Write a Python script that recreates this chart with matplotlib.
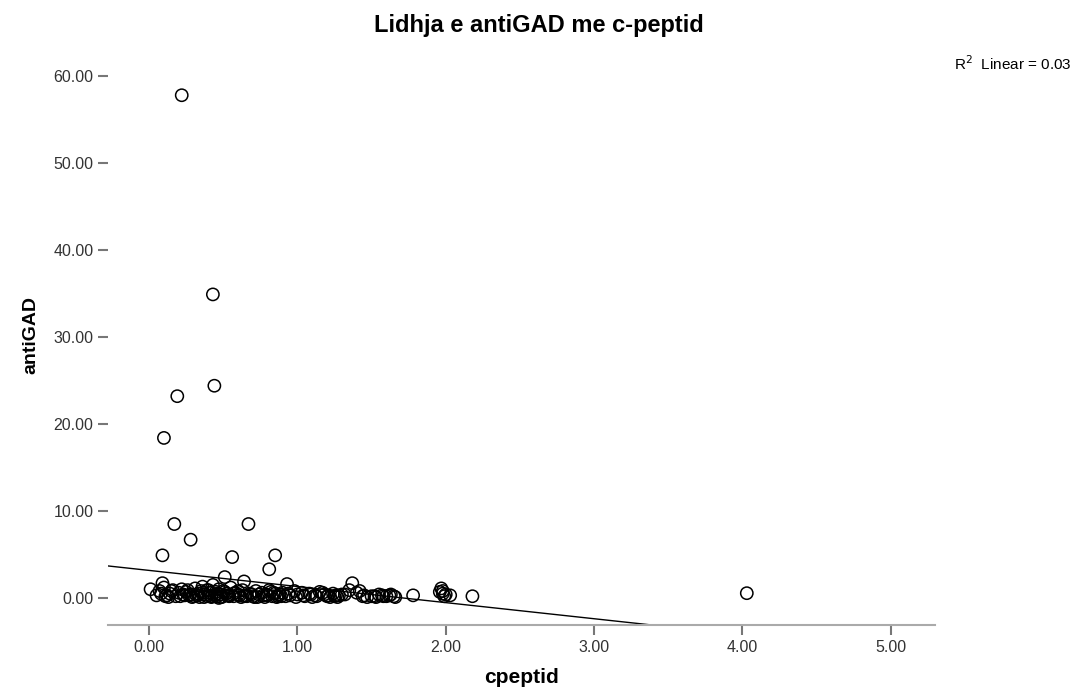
import numpy as np
import matplotlib
matplotlib.use('Agg')
import matplotlib.pyplot as plt

plt.rcParams['font.family'] = ['Liberation Sans', 'DejaVu Sans']

# 外れ値 + 密集部
cpeptid = [0.22, 0.43, 0.44, 0.19, 0.10, 0.17, 0.67, 0.28, 0.09, 0.56, 0.85, 0.81, 0.51,
           0.64, 0.93, 1.37, 0.01, 0.09, 4.03, 1.97, 1.98, 2.03, 2.18, 1.78, 1.42, 1.47,
           0.08, 0.10, 0.12, 0.15, 0.18, 0.20, 0.22, 0.24, 0.26, 0.28, 0.30, 0.31, 0.33,
           0.34, 0.35, 0.36, 0.38, 0.39, 0.40, 0.41, 0.42, 0.43, 0.44, 0.45, 0.46, 0.47,
           0.48, 0.49, 0.50, 0.52, 0.53, 0.55, 0.57, 0.58, 0.60, 0.62, 0.63, 0.65, 0.68,
           0.70, 0.72, 0.74, 0.76, 0.78, 0.80, 0.82, 0.83, 0.85, 0.86, 0.88, 0.90, 0.92,
           0.95, 0.98, 1.00, 1.03, 1.05, 1.08, 1.10, 1.12, 1.15, 1.18, 1.20, 1.22, 1.24,
           1.26, 1.30, 1.35, 1.40, 1.57, 1.60, 1.63, 1.66, 0.11, 0.27, 0.37, 0.46, 0.54,
           0.61, 0.71, 0.79, 0.87, 0.32, 0.41, 0.47, 0.66,
           1.96, 1.98, 1.99, 2.00, 1.58, 1.62, 1.65, 1.52, 1.25, 1.28,
           0.05, 0.07, 0.13, 0.14, 0.16, 0.21, 0.23, 0.25, 0.29, 0.33, 0.36, 0.39, 0.42,
           0.45, 0.48, 0.51, 0.54, 0.57, 0.60, 0.64, 0.69, 0.73, 0.77, 0.81, 0.84, 0.89,
           0.94, 0.99, 1.04, 1.09, 1.13, 1.17, 1.21, 1.27, 1.32, 1.45, 1.50, 1.55, 1.44, 1.53]
antigad = [57.8, 34.9, 24.4, 23.2, 18.4, 8.5, 8.5, 6.7, 4.9, 4.7, 4.9, 3.3, 2.4,
           1.9, 1.6, 1.7, 1.0, 1.7, 0.55, 1.1, 0.8, 0.3, 0.2, 0.3, 0.8, 0.1,
           0.5, 1.2, 0.3, 0.8, 0.2, 0.6, 1.0, 0.3, 0.9, 0.4, 0.2, 1.1, 0.5,
           0.1, 0.8, 1.3, 0.4, 0.2, 0.9, 0.6, 0.1, 1.5, 0.3, 0.7, 0.2, 1.0,
           0.4, 0.1, 0.8, 0.5, 0.3, 1.2, 0.2, 0.6, 0.4, 0.1, 0.9, 0.3, 0.5,
           0.2, 0.8, 0.4, 0.6, 0.1, 0.3, 0.7, 0.2, 0.5, 0.1, 0.4, 0.6, 0.2,
           0.3, 0.8, 0.4, 0.6, 0.2, 0.5, 0.1, 0.3, 0.7, 0.4, 0.2, 0.1, 0.5,
           0.3, 0.4, 0.9, 0.6, 0.3, 0.2, 0.4, 0.1, 0.2, 0.3, 0.1, 0.5, 0.2,
           0.3, 0.1, 0.4, 0.2, 0.3, 0.6, 0.0, 0.2,
           0.7, 0.5, 0.2, 0.4, 0.2, 0.3, 0.2, 0.2, 0.2, 0.3,
           0.3, 0.8, 0.1, 0.5, 0.9, 0.2, 0.4, 0.7, 0.1, 0.3, 0.6, 0.9, 0.2,
           0.4, 0.1, 0.7, 0.3, 0.5, 0.8, 0.2, 0.4, 0.1, 0.3, 0.9, 0.6, 0.2,
           0.5, 0.1, 0.3, 0.4, 0.2, 0.6, 0.3, 0.1, 0.4, 0.3, 0.2, 0.4, 0.2, 0.1]
xticks = [0, 1, 2, 3, 4, 5]
yticks = [0, 10, 20, 30, 40, 50, 60]

x = np.array(cpeptid)
y = np.array(antigad)
slope, intercept = np.polyfit(x, y, 1)

fig = plt.figure(figsize=(10.77, 6.89), dpi=100)
ax = fig.add_axes([0.1003, 0.093, 0.768, 0.842])

ax.scatter(x, y, s=78, facecolors='none', edgecolors='black', linewidths=1.1, zorder=3)

xl = (-0.277, 5.30)
yl = (-3.1, 63.6)
xx = np.array(xl)
ax.plot(xx, intercept + slope * xx, color='black', lw=1.0, zorder=2)

ax.set_xlim(xl)
ax.set_ylim(yl)
ax.set_xticks(xticks)
ax.set_yticks(yticks)
ax.set_xticklabels(['%.2f' % v for v in xticks])
ax.set_yticklabels(['%.2f' % v for v in yticks])

for s in ['top', 'right', 'left']:
    ax.spines[s].set_visible(False)
ax.spines['bottom'].set_color('#aaaaaa')
ax.spines['bottom'].set_linewidth(1.5)
ax.tick_params(axis='both', colors='#777777', labelcolor='#333333', labelsize=11.5,
               length=7, width=1.5)

ax.set_xlabel('cpeptid', fontsize=15, fontweight='bold', labelpad=10)
ax.set_ylabel('antiGAD', fontsize=14, fontweight='bold', labelpad=10)
fig.suptitle('Lidhja e antiGAD me c-peptid', fontsize=17, fontweight='bold', y=0.98)
fig.text(0.995, 0.908, 'R$^2$  Linear = 0.03', ha='right', va='center', fontsize=11)

fig.savefig('out.png', dpi=100)
